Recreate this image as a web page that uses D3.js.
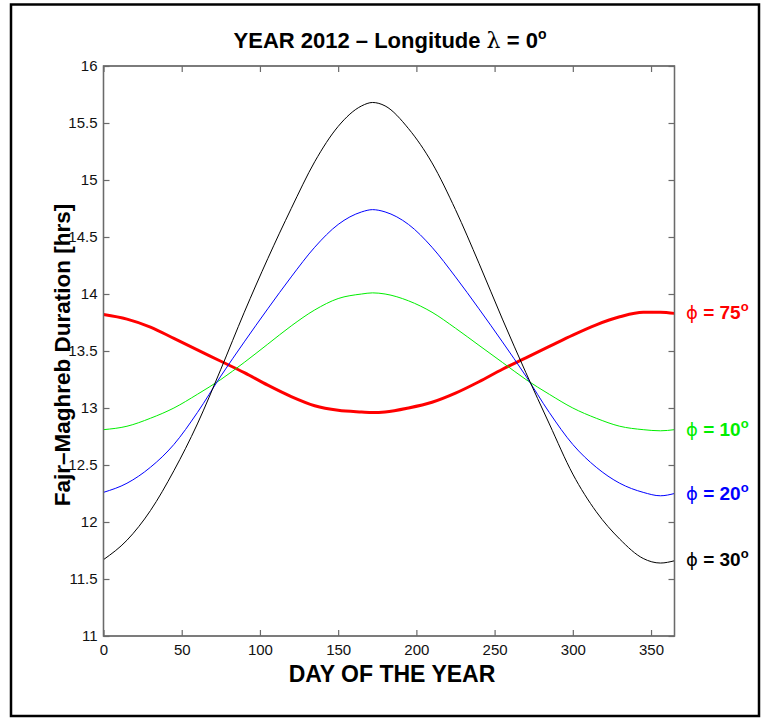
<!DOCTYPE html>
<html>
<head>
<meta charset="utf-8">
<script src="https://cdn.jsdelivr.net/npm/d3@7"></script>
<style>
  html, body { margin: 0; padding: 0; background: #fff; }
  svg { display: block; font-family: "Liberation Sans", Arial, Helvetica, sans-serif; }
</style>
</head>
<body>
<svg id="chart" width="769" height="719"></svg>
<script>
// ---- data ----
const days = [0,15,30,45,60,75,90,105,120,135,150,165,172,180,195,210,225,240,255,270,285,300,315,330,345,356,365];
const lat30 = [11.67,11.84,12.10,12.45,12.86,13.34,13.84,14.31,14.75,15.16,15.47,15.65,15.68,15.65,15.45,15.15,14.74,14.27,13.78,13.31,12.86,12.42,12.09,11.85,11.68,11.64,11.66];
const lat20 = [12.26,12.34,12.48,12.68,12.96,13.28,13.58,13.87,14.15,14.41,14.61,14.72,14.74,14.72,14.61,14.41,14.15,13.87,13.58,13.28,12.96,12.68,12.48,12.34,12.26,12.23,12.25];
const lat10 = [12.81,12.84,12.91,13.00,13.12,13.25,13.40,13.56,13.72,13.86,13.96,14.00,14.01,14.00,13.94,13.84,13.70,13.55,13.40,13.25,13.12,13.00,12.91,12.84,12.81,12.80,12.81];
const lat75 = [13.82,13.78,13.71,13.61,13.51,13.41,13.31,13.20,13.10,13.02,12.98,12.965,12.96,12.965,13.00,13.05,13.13,13.23,13.34,13.44,13.54,13.64,13.73,13.80,13.84,13.84,13.83];
const xTicks = [0,50,100,150,200,250,300,350];
const yTicks = [11,11.5,12,12.5,13,13.5,14,14.5,15,15.5,16];
const seriesNames = ["75","10","20","30"];
const seriesColors = ["#ff0000","#00ee00","#0000ff","#000000"];

const series = [
  {name: seriesNames[0], values: lat75, color: seriesColors[0], width: 3},
  {name: seriesNames[1], values: lat10, color: seriesColors[1], width: 1},
  {name: seriesNames[2], values: lat20, color: seriesColors[2], width: 1},
  {name: seriesNames[3], values: lat30, color: seriesColors[3], width: 1}
];

const svg = d3.select("#chart");
const L = 103.5, R = 674.5, T = 66, B = 636;
const x = d3.scaleLinear().domain([0, 365]).range([L, R]);
const y = d3.scaleLinear().domain([11, 16]).range([B, T]);
const axisColor = "#6a6a6a";

// outer frame
svg.append("rect").attr("x", 11).attr("y", 4.5).attr("width", 748).attr("height", 711.5)
  .attr("fill", "none").attr("stroke", "#000").attr("stroke-width", 2.5);

// plot box
svg.append("rect").attr("x", L).attr("y", T).attr("width", R - L).attr("height", B - T)
  .attr("fill", "#fff").attr("stroke", axisColor).attr("stroke-width", 1.3);

// axes (MATLAB style ticks inward)
const gx = svg.append("g").attr("transform", `translate(0,${B})`)
  .call(d3.axisBottom(x).tickValues(xTicks).tickSize(-6).tickPadding(8).tickFormat(d3.format("d")));
const gxTop = svg.append("g").attr("transform", `translate(0,${T})`)
  .call(d3.axisTop(x).tickValues(xTicks).tickSize(-6).tickFormat(""));
const gy = svg.append("g").attr("transform", `translate(${L},0)`)
  .call(d3.axisLeft(y).tickValues(yTicks).tickSize(-6).tickPadding(6).tickFormat(d => String(d)));
const gyR = svg.append("g").attr("transform", `translate(${R},0)`)
  .call(d3.axisRight(y).tickValues(yTicks).tickSize(-6).tickFormat(""));
[gx, gxTop, gy, gyR].forEach(g => {
  g.select(".domain").remove();
  g.selectAll(".tick line").attr("stroke", axisColor).attr("stroke-width", 1.2);
  g.selectAll(".tick text").attr("fill", "#111").attr("font-size", 15);
});
gx.selectAll("text").attr("dy", "0.7em");

// lines
const line = d3.line().x((d, i) => x(days[i])).y(d => y(d)).curve(d3.curveMonotoneX);
svg.append("clipPath").attr("id", "clip").append("rect")
  .attr("x", L).attr("y", T).attr("width", R - L).attr("height", B - T);
svg.append("g").attr("clip-path", "url(#clip)").selectAll("path").data(series).join("path")
  .attr("d", s => line(s.values))
  .attr("fill", "none")
  .attr("stroke", s => s.color)
  .attr("stroke-width", s => s.width)
  .attr("stroke-linejoin", "round");

// redraw box edges on top
svg.append("rect").attr("x", L).attr("y", T).attr("width", R - L).attr("height", B - T)
  .attr("fill", "none").attr("stroke", axisColor).attr("stroke-width", 1.3);

// right-side labels
const labY = [13.83, 12.81, 12.25, 11.67];
series.forEach((s, i) => {
  const t = svg.append("text").attr("x", 686).attr("y", y(labY[i]) + 6)
    .attr("fill", s.color).attr("font-size", 19).attr("font-weight", "bold");
  t.append("tspan").attr("font-weight", "normal").attr("font-family", "DejaVu Sans, sans-serif").attr("font-size", 18).text("\u03D5");
  t.append("tspan").text(" = " + s.name);
  t.append("tspan").attr("font-weight", "bold").attr("font-size", 13).attr("dy", -8).text("o");
});

// title
const title = svg.append("text").attr("x", 390).attr("y", 48).attr("text-anchor", "middle")
  .attr("font-size", 22).attr("font-weight", "bold").attr("fill", "#000");
title.append("tspan").text("YEAR 2012 \u2013 Longitude ");
title.append("tspan").attr("font-weight", "normal").attr("font-family", "DejaVu Serif, serif").text("\u03BB");
title.append("tspan").text(" = 0");
title.append("tspan").attr("font-size", 14).attr("dy", -9).text("o");

// axis labels
svg.append("text").attr("x", 392).attr("y", 682).attr("text-anchor", "middle")
  .attr("font-size", 23).attr("font-weight", "bold").attr("fill", "#000").text("DAY OF THE YEAR");
svg.append("text").attr("transform", `translate(70,355) rotate(-90)`).attr("text-anchor", "middle")
  .attr("font-size", 22.5).attr("font-weight", "bold").attr("fill", "#000").text("Fajr\u2013Maghreb Duration [hrs]");
</script>
</body>
</html>
